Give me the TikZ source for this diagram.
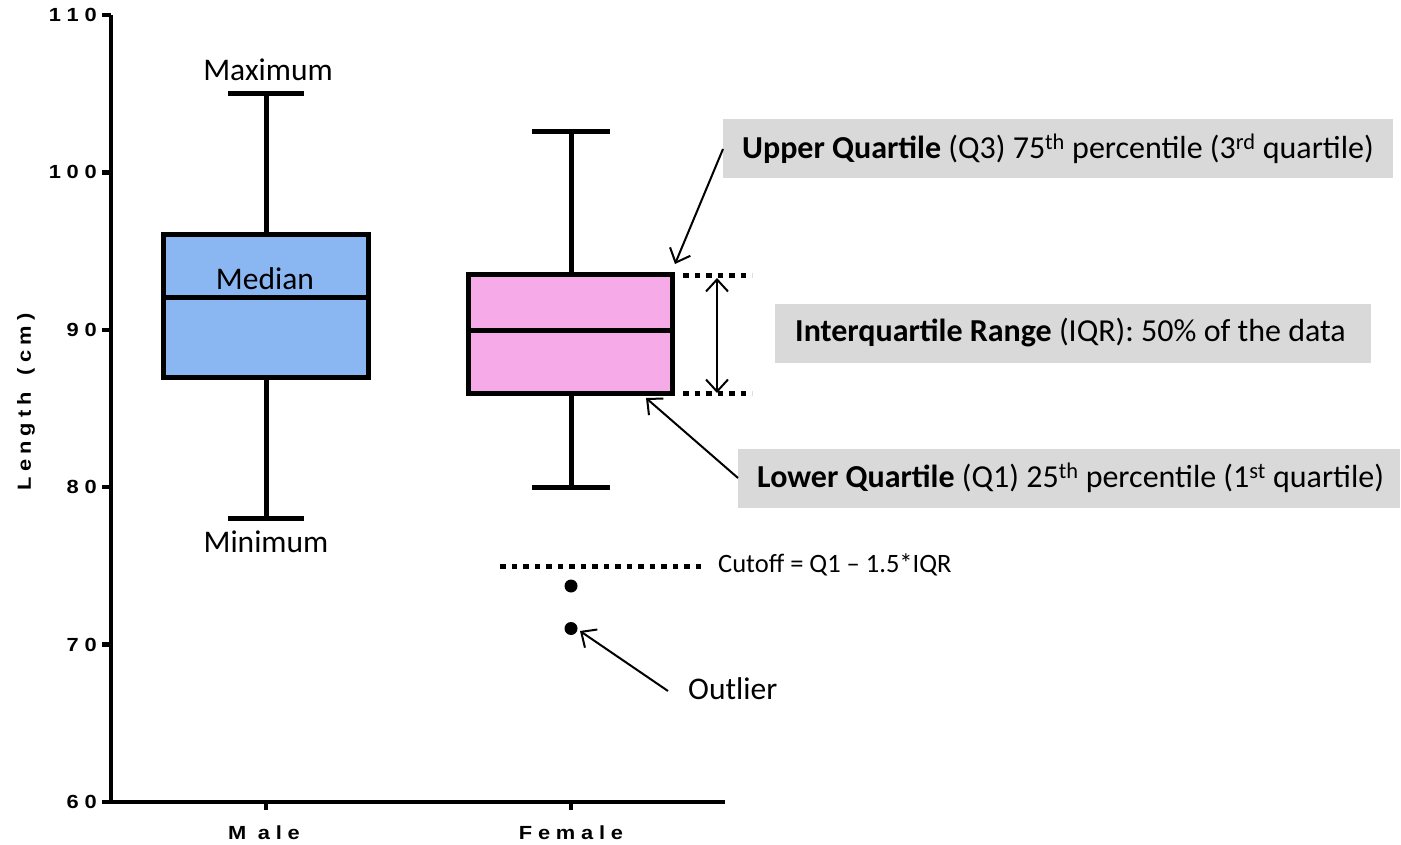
\documentclass[tikz,border=0pt]{standalone}
\usepackage{fontspec}
\setmainfont{Carlito}
\newfontfamily\axfont{Liberation Sans Bold}
\usetikzlibrary{arrows.meta}
\definecolor{maleblue}{RGB}{138,183,242}
\definecolor{femalepink}{RGB}{246,170,232}
\definecolor{boxgray}{RGB}{217,217,217}
\newcommand\ls{\hspace{5pt}}
\newcommand\wide[1]{\scalebox{1.15}[1]{#1}}
\begin{document}
\begin{tikzpicture}[x=1pt,y=-1pt,
  axline/.style={line width=4.5pt},
  boxline/.style={line width=5pt,draw=black},
  whisk/.style={line width=5pt},
  dotline/.style={line width=5pt,dash pattern=on 5.5pt off 6pt},
  ann/.style={line width=2pt,-{Straight Barb[length=12pt,width=22pt,line width=2pt]}},
  lbl/.style={font=\fontsize{31.5}{36}\selectfont,inner sep=0pt},
  ticklbl/.style={font=\axfont\fontsize{19}{23}\selectfont,inner sep=0pt,anchor=east},
  gbox/.style={fill=boxgray,inner sep=0pt,minimum height=59pt,anchor=west},
  gtxt/.style={font=\fontsize{32}{36}\selectfont,inner sep=0pt,anchor=west}
]
\useasboundingbox (0,0) rectangle (1401,845);

% axes
\coordinate (ytop) at (111,15);
\coordinate (origin) at (111,802);
\coordinate (xend) at (725,802);
\draw[axline] (ytop) -- (origin) -- (xend);
\foreach \v/\yy in {110/15,100/172.4,90/329.8,80/487.2,70/644.6,60/802}{
  \draw[axline] (102,\yy) -- (111,\yy);
}
\node[ticklbl] (t110) at (97,15) {\wide{1\ls1\ls0}};
\node[ticklbl] (t100) at (97,172.4) {\wide{1\ls0\ls0}};
\node[ticklbl] (t90) at (97,329.8) {\wide{9\ls0}};
\node[ticklbl] (t80) at (97,487.2) {\wide{8\ls0}};
\node[ticklbl] (t70) at (97,644.6) {\wide{7\ls0}};
\node[ticklbl] (t60) at (97,802) {\wide{6\ls0}};
\node[ticklbl,anchor=center,rotate=90] (ylab) at (26,402) {\wide{L\hspace{4.5pt}e\hspace{4.5pt}n\hspace{4.5pt}g\hspace{4.5pt}t\hspace{4.5pt}h\hspace{4.5pt}\ \hspace{4.5pt}(\hspace{4.5pt}c\hspace{4.5pt}m\hspace{4.5pt})}};
\draw[axline] (266,802) -- (266,810);
\draw[axline] (571,802) -- (571,810);
\node[ticklbl,anchor=center] (xmale) at (264,833) {\wide{M\ls\ls a\ls l\ls e}};
\node[ticklbl,anchor=center] (xfemale) at (571,833) {\wide{F\ls e\ls m\ls a\ls l\ls e}};

% male box
\draw[whisk] (266,93.7) -- (266,235);
\draw[whisk] (266,377) -- (266,518.7);
\draw[whisk] (228,93.7) -- (304,93.7);
\draw[whisk] (228,518.7) -- (304,518.7);
\draw[boxline,fill=maleblue] (163.5,235) rectangle (368.5,377);
\draw[whisk] (163.5,298) -- (368.5,298);
\node[lbl] (max) at (268,70) {Maximum};
\node[lbl] (min) at (266,542) {Minimum};
\node[lbl] (med) at (265,279) {Median};

% female box
\draw[whisk] (571,131.5) -- (571,274.5);
\draw[whisk] (571,393.5) -- (571,487.2);
\draw[whisk] (532,131.5) -- (610,131.5);
\draw[whisk] (532,487.2) -- (610,487.2);
\draw[boxline,fill=femalepink] (468.5,274.5) rectangle (672.5,393.5);
\draw[whisk] (468.5,330) -- (672.5,330);

% outliers
\fill (571,586) circle (6.5);
\fill (571,628.5) circle (6.5);
\coordinate (outdot) at (580,631);

% cutoff
\coordinate (cut1) at (500,566);
\coordinate (cut2) at (706,566);
\draw[dotline] (cut1) -- (cut2);
\node[font=\fontsize{26.5}{30}\selectfont,inner sep=0pt,anchor=west] (cutlbl) at (718,565) {Cutoff = Q1 – 1.5*IQR};

% IQR dotted lines and arrow
\coordinate (q3a) at (683,275.5);
\coordinate (q3b) at (752,275.5);
\coordinate (q1a) at (683,393.5);
\coordinate (q1b) at (752,393.5);
\draw[dotline] (q3a) -- (q3b);
\draw[dotline] (q1a) -- (q1b);
\coordinate (iqrtop) at (717,278);
\coordinate (iqrbot) at (717,393);
\draw[line width=2pt,{Straight Barb[length=12pt,width=22pt,line width=2pt]}-{Straight Barb[length=12pt,width=22pt,line width=2pt]}] (iqrtop) -- (iqrbot);

% labels
\node[gbox,minimum width=670pt] (uq) at (723,149) {};
\node[gtxt] (uqt) at (742,149) {\textbf{Upper Quartile} (Q3) 75\textsuperscript{th} percentile (3\textsuperscript{rd} quartile)};
\node[gbox,minimum width=596pt] (iqr) at (775,333) {};
\node[gtxt] (iqrt) at (795,333) {\textbf{Interquartile Range} (IQR): 50\% of the data};
\node[gbox,minimum width=662pt] (lq) at (738,478) {};
\node[gtxt] (lqt) at (757,478) {\textbf{Lower Quartile} (Q1) 25\textsuperscript{th} percentile (1\textsuperscript{st} quartile)};
\node[lbl,anchor=west] (outl) at (688,689) {Outlier};

\coordinate (q3tip) at (675,264);
\coordinate (q1tip) at (646,398);
\draw[ann] (uq.west) -- (q3tip);
\draw[ann] (lq.west) -- (q1tip);
\draw[ann] ([xshift=-20pt,yshift=-2pt]outl.west) -- (outdot);
\end{tikzpicture}
\end{document}
